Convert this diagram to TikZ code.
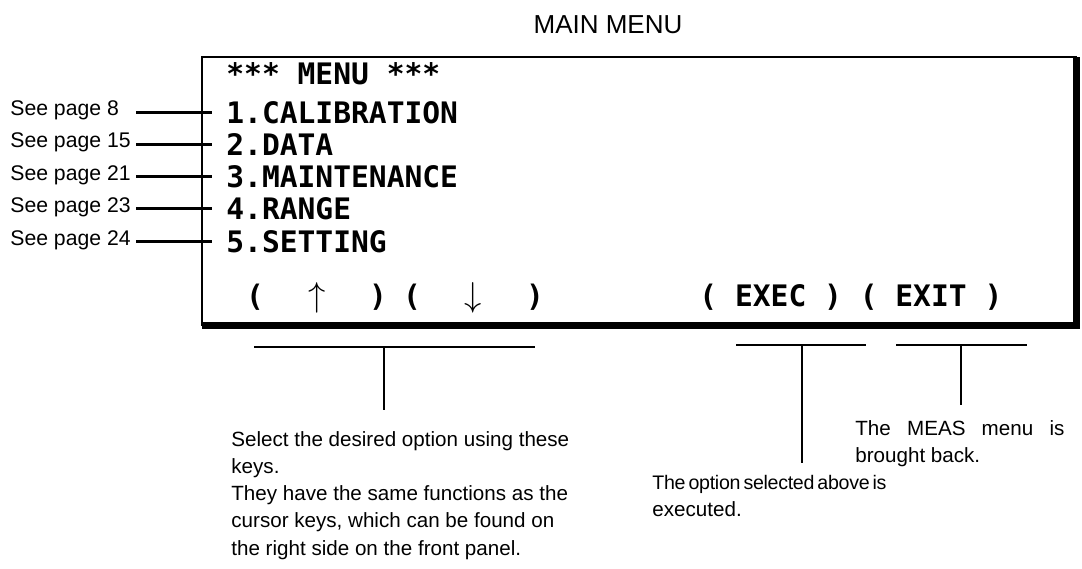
\documentclass[tikz,border=0pt]{standalone}
\usepackage{fontspec}
\setmainfont{Liberation Sans}
\newfontfamily\lcd{DejaVu Sans Mono}

\begin{document}
\begin{tikzpicture}[x=0.5pt, y=-0.5pt]
    \tikzstyle{lcdline}=[anchor=base west, inner xsep=5pt, inner ysep=0pt, font=\lcd\bfseries\fontsize{14.8}{17}\selectfont]
    \tikzstyle{lcdkey}=[anchor=base, inner sep=0pt, font=\lcd\bfseries\fontsize{14.8}{17}\selectfont]
    \tikzstyle{pagelabel}=[anchor=west, inner sep=0pt, font=\fontsize{10.6}{12}\selectfont]
    \tikzstyle{note}=[anchor=north west, inner sep=0pt, align=left, font=\fontsize{10.3}{13.6}\selectfont]
    \tikzstyle{leader}=[line width=1.5pt]
    \tikzstyle{bracket}=[line width=1pt]

    \useasboundingbox (0,0) rectangle (1082,568);

    \node[font=\fontsize{13}{15}\selectfont] (title) at (608,25) {MAIN MENU};

    \coordinate (tl) at (202,57);
    \coordinate (br) at (1076,325);
    \draw[line width=1pt] (tl) rectangle (br);
    \draw[line width=3.5pt, line join=miter] (tl -| br) -- (br) -- (tl |- br);

    \node[lcdline] (m0) at (216,84) {*** MENU ***};
    \node[lcdline] (m1) at (216,123) {1.CALIBRATION};
    \node[lcdline] (m2) at (216,155) {2.DATA};
    \node[lcdline] (m3) at (216,187) {3.MAINTENANCE};
    \node[lcdline] (m4) at (216,219) {4.RANGE};
    \node[lcdline] (m5) at (216,252) {5.SETTING};

    \node[pagelabel] (p1) at (10,110) {See page 8};
    \node[pagelabel] (p2) at (10,142) {See page 15};
    \node[pagelabel] (p3) at (10,175) {See page 21};
    \node[pagelabel] (p4) at (10,207) {See page 23};
    \node[pagelabel] (p5) at (10,240) {See page 24};

    \coordinate (lx) at (136,0);
    \draw[leader] (lx |- m1.west) -- ([xshift=-2pt]m1.west);
    \draw[leader] (lx |- m2.west) -- ([xshift=-2pt]m2.west);
    \draw[leader] (lx |- m3.west) -- ([xshift=-2pt]m3.west);
    \draw[leader] (lx |- m4.west) -- ([xshift=-2pt]m4.west);
    \draw[leader] (lx |- m5.west) -- ([xshift=-2pt]m5.west);

    \foreach \x/\c [count=\i] in {255/{(},317/{\fontsize{17}{17}\selectfont$\uparrow$},378/{)},412/{(},473/{\fontsize{17}{17}\selectfont$\downarrow$},535/{)}}
      \node[lcdkey] (k\i) at (\x,306) {\c};
    \node[lcdline, inner xsep=0pt] (keys) at (699,306) {( EXEC ) ( EXIT )};

    \coordinate (sa) at (254,347);
    \coordinate (sb) at (535,347);
    \coordinate (ss) at (384,347);
    \coordinate (se) at (384,410);
    \draw[bracket] (sa) -- (sb);
    \draw[bracket] (ss) -- (se);

    \coordinate (ea) at (736,345);
    \coordinate (eb) at (866,345);
    \coordinate (es) at (802,345);
    \coordinate (ee) at (802,463);
    \draw[bracket] (ea) -- (eb);
    \draw[bracket] (es) -- (ee);

    \coordinate (xa) at (896,345);
    \coordinate (xb) at (1027,345);
    \coordinate (xs) at (961,345);
    \coordinate (xe) at (961,405);
    \draw[bracket] (xa) -- (xb);
    \draw[bracket] (xs) -- (xe);

    \node[note] (sel) at (231,431) {Select the desired option using these\\keys.\\They have the same functions as the\\cursor keys, which can be found on\\the right side on the front panel.};
    \node[note] (exe) at (652,475) {{\fontsize{9.8}{13.6}\selectfont\addfontfeature{LetterSpace=-1.5}\spaceskip=1.5pt The option selected above is}\\executed.};
    \node[note] (back) at (855,420) {\makebox[104.5pt][s]{The MEAS menu is}\\brought back.};
  \end{tikzpicture}
\end{document}
